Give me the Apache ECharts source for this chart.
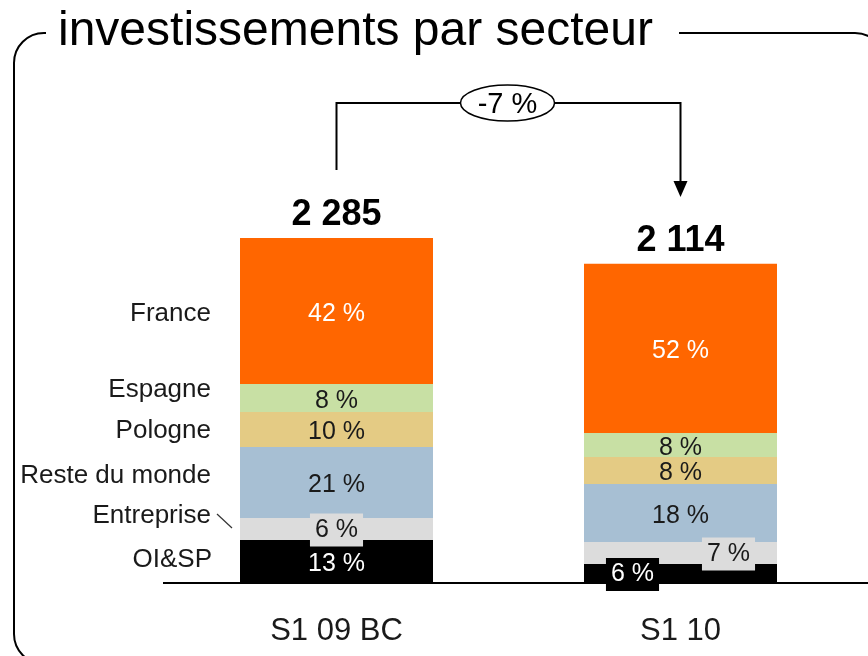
<!DOCTYPE html>
<html>
<head>
<meta charset="utf-8">
<script src="https://cdn.jsdelivr.net/npm/echarts@6/dist/echarts.min.js"></script>
<style>
html,body{margin:0;padding:0;background:#fff;}
#chart{width:868px;height:656px;}
</style>
</head>
<body>
<div id="chart"></div>
<script>
// ---- data ----
const categories = ['S1 09 BC', 'S1 10'];
const sectorNames = ['OI&SP', 'Entreprise', 'Reste du monde', 'Pologne', 'Espagne', 'France'];
const oiSp       = [285, 126];
const entreprise = [146, 146];
const resteMonde = [470, 384];
const pologne    = [232, 179];
const espagne    = [185, 159];
const france     = [967, 1120];
const totals     = [2285, 2114];
const totalLabels = ['2 285', '2 114'];
const oiSpPct       = ['13 %', '6 %'];
const entreprisePct = ['6 %', '7 %'];
const resteMondePct = ['21 %', '18 %'];
const polognePct    = ['10 %', '8 %'];
const espagnePct    = ['8 %', '8 %'];
const francePct     = ['42 %', '52 %'];
const variationLabel = '-7 %';
const titleText = 'investissements par secteur';

const FONT = "'Liberation Sans', Arial, Helvetica, sans-serif";
const chart = echarts.init(document.getElementById('chart'), null, {renderer: 'canvas'});

function seg(name, values, pcts, color, textColor, extra) {
  return {
    name: name,
    type: 'bar',
    stack: 'total',
    barWidth: 193,
    barGap: '-100%',
    itemStyle: {color: color},
    data: values.map(function (v, i) {
      const d = {value: v};
      if (extra && extra[i]) d.label = extra[i];
      return d;
    }),
    label: {
      show: true,
      position: 'inside',
      offset: [0, 3],
      fontFamily: FONT,
      fontSize: 25,
      color: textColor,
      formatter: function (p) { return pcts[p.dataIndex]; }
    },
    emphasis: {disabled: true},
    silent: true
  };
}

const option = {
  backgroundColor: '#ffffff',
  animation: false,
  grid: {left: 164.5, right: 15.5, top: 130, bottom: 73},
  xAxis: {
    type: 'category',
    data: categories,
    axisLine: {show: false},
    axisTick: {show: false},
    axisLabel: {
      fontFamily: FONT, fontSize: 31, color: '#1a1a1a', margin: 33
    }
  },
  yAxis: {
    type: 'value', min: 0, max: 3000,
    show: false, splitLine: {show: false}
  },
  series: [
    seg(sectorNames[0], oiSp, oiSpPct, '#000000', '#ffffff', [null, {
      offset: [-48, 1], backgroundColor: '#000000', padding: [4, 5], color: '#ffffff'
    }]),
    seg(sectorNames[1], entreprise, entreprisePct, '#dcdcdc', '#1a1a1a', [
      {offset: [0, 1], backgroundColor: '#dcdcdc', padding: [4, 5]},
      {offset: [48, 1], backgroundColor: '#dcdcdc', padding: [4, 5]}
    ]),
    seg(sectorNames[2], resteMonde, resteMondePct, '#a7bfd3', '#1a1a1a'),
    seg(sectorNames[3], pologne, polognePct, '#e4cb84', '#1a1a1a'),
    seg(sectorNames[4], espagne, espagnePct, '#c8e0a4', '#1a1a1a'),
    seg(sectorNames[5], france, francePct, '#ff6600', '#ffffff'),
    {
      name: 'Total',
      type: 'bar',
      barWidth: 193,
      barGap: '-100%',
      z: 1,
      itemStyle: {color: 'rgba(0,0,0,0)'},
      data: totals,
      label: {
        show: true, position: 'top', distance: 5,
        fontFamily: FONT, fontSize: 36, fontWeight: 'bold', color: '#000',
        formatter: function (p) { return totalLabels[p.dataIndex]; }
      },
      silent: true
    }
  ],
  graphic: {
    elements: [
      // frame
      {type: 'rect', shape: {x: 14, y: 33, width: 871, height: 631, r: 30},
       style: {fill: 'none', stroke: '#000', lineWidth: 2}, z: 10},
      {type: 'rect', shape: {x: 46, y: 20, width: 633, height: 30},
       style: {fill: '#fff'}, z: 11},
      {type: 'text', x: 58, y: 32, z: 12,
       style: {text: titleText, fontFamily: FONT, fontSize: 48, fill: '#000',
               align: 'left', verticalAlign: 'middle'}},
      // baseline
      {type: 'line', shape: {x1: 163, y1: 583, x2: 868, y2: 583},
       style: {stroke: '#000', lineWidth: 2}, z: 10},
      // sector labels
      {type: 'text', x: 211, y: 313.5, z: 12, style: {text: sectorNames[5], fontFamily: FONT, fontSize: 26, fill: '#1a1a1a', align: 'right', verticalAlign: 'middle'}},
      {type: 'text', x: 211, y: 389.5, z: 12, style: {text: sectorNames[4], fontFamily: FONT, fontSize: 26, fill: '#1a1a1a', align: 'right', verticalAlign: 'middle'}},
      {type: 'text', x: 211, y: 431, z: 12, style: {text: sectorNames[3], fontFamily: FONT, fontSize: 26, fill: '#1a1a1a', align: 'right', verticalAlign: 'middle'}},
      {type: 'text', x: 211, y: 475.5, z: 12, style: {text: sectorNames[2], fontFamily: FONT, fontSize: 26, fill: '#1a1a1a', align: 'right', verticalAlign: 'middle'}},
      {type: 'text', x: 211, y: 516, z: 12, style: {text: sectorNames[1], fontFamily: FONT, fontSize: 26, fill: '#1a1a1a', align: 'right', verticalAlign: 'middle'}},
      {type: 'text', x: 212, y: 559.5, z: 12, style: {text: sectorNames[0], fontFamily: FONT, fontSize: 26, fill: '#1a1a1a', align: 'right', verticalAlign: 'middle'}},
      {type: 'line', shape: {x1: 217, y1: 514, x2: 232, y2: 528},
       style: {stroke: '#333', lineWidth: 1.2}, z: 12},
      // variation bracket
      {type: 'polyline', shape: {points: [[336.5, 170], [336.5, 103], [680.5, 103], [680.5, 184]]},
       style: {stroke: '#000', lineWidth: 2, fill: 'none'}, z: 12},
      {type: 'polygon', shape: {points: [[673.5, 181], [687.5, 181], [680.5, 197]]},
       style: {fill: '#000'}, z: 12},
      {type: 'ellipse', shape: {cx: 507.5, cy: 103, rx: 47, ry: 18},
       style: {fill: '#fff', stroke: '#000', lineWidth: 1.5}, z: 13},
      {type: 'text', x: 507.5, y: 105, z: 14,
       style: {text: variationLabel, fontFamily: FONT, fontSize: 29, fill: '#000',
               align: 'center', verticalAlign: 'middle'}}
    ]
  }
};
chart.setOption(option);
</script>
</body>
</html>
